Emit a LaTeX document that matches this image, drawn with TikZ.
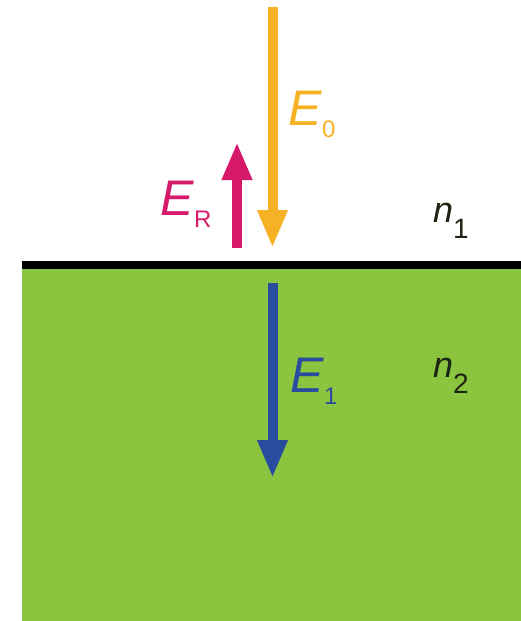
\documentclass[tikz,border=0pt]{standalone}
\usepackage{fontspec}
\setmainfont{Liberation Sans}
\usetikzlibrary{arrows.meta}

\definecolor{glass}{HTML}{8BC43F}
\definecolor{incident}{HTML}{F6B225}
\definecolor{reflected}{HTML}{D6196B}
\definecolor{transmitted}{HTML}{2A4C9E}
\definecolor{mediumtext}{HTML}{1C2414}

% lowered subscript: \lowsub{size}{drop}{text}
\newcommand{\lowsub}[3]{\raisebox{-#2}{\fontsize{#1}{#1}\selectfont #3}}

\begin{document}
\begin{tikzpicture}[
  x=1pt, y=-1pt,
  wave/.style={line width=10pt, -{Triangle[length=38pt, width=28pt]}},
  field/.style={anchor=base west, inner sep=0pt, font=\fontsize{50}{54}\selectfont},
  index/.style={anchor=base west, inner sep=0pt, text=mediumtext, font=\fontsize{36}{40}\selectfont}
]
\useasboundingbox (0,0) rectangle (521,621);

% second medium and the interface
\fill[glass] (22,265) rectangle (521,621);
\draw[line width=8pt] (22,265) -- (521,265);

% end points of the waves
\coordinate (inTop) at (272.5,7);
\coordinate (inTip) at (272.5,248);
\coordinate (reflBase) at (237,248);
\coordinate (reflTip) at (237,142);
\coordinate (transTop) at (272.5,283);
\coordinate (transTip) at (272.5,478);

\draw[wave, incident] (inTop) -- (inTip);
\draw[wave, reflected] (reflBase) -- (reflTip);
\draw[wave, transmitted] (transTop) -- (transTip);

% labels
\node[field, text=incident] (e0) at (288,125) {\textit{E}\lowsub{24}{12pt}{0}};
\node[field, text=reflected] (er) at (160,215) {\textit{E}\lowsub{24}{12pt}{R}};
\node[field, text=transmitted] (e1) at (290,392) {\textit{E}\lowsub{24}{12pt}{1}};
\node[index] (n1) at (433,222) {\textit{n}\lowsub{28}{16pt}{1}};
\node[index] (n2) at (433,377) {\textit{n}\lowsub{28}{16pt}{2}};

\end{tikzpicture}
\end{document}
